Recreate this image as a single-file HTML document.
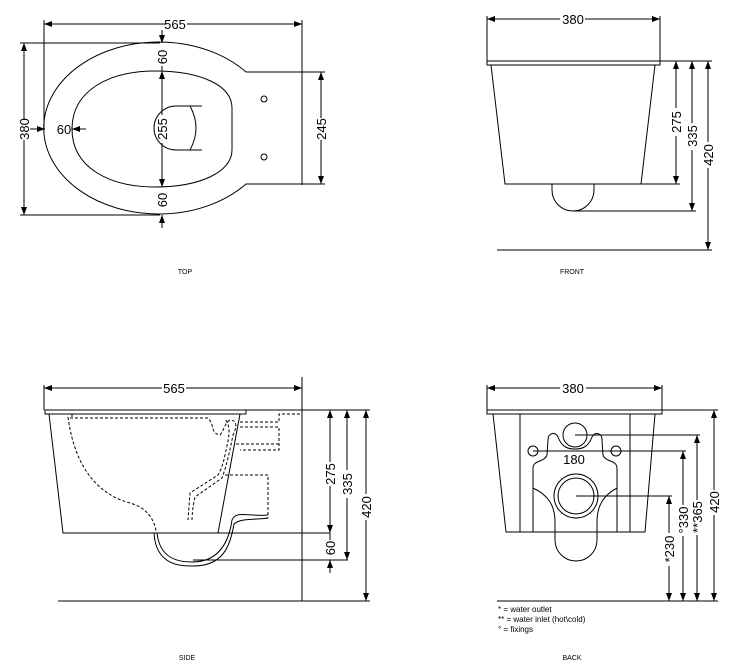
<!DOCTYPE html>
<html><head><meta charset="utf-8"><style>
html,body{margin:0;padding:0;background:#fff;}
svg{display:block;}
text{font-family:"Liberation Sans",sans-serif;fill:#000;}
</style></head><body>
<svg width="751" height="672" viewBox="0 0 751 672" xmlns="http://www.w3.org/2000/svg">
<defs>
<marker id="a" markerWidth="8" markerHeight="6" refX="8" refY="3" orient="auto-start-reverse" markerUnits="userSpaceOnUse"><path d="M0,0 L8,3 L0,6 z" fill="#000"/></marker>
</defs>
<g stroke="#000" stroke-width="1" fill="none">
<!-- TOP VIEW -->
<line x1="44" y1="24" x2="166" y2="24" marker-start="url(#a)"/>
<line x1="187" y1="24" x2="302" y2="24" marker-end="url(#a)"/>
<line x1="44" y1="20" x2="44" y2="130"/>
<line x1="302" y1="20" x2="302" y2="185"/>
<path d="M246,72 A115,86 0 1 0 246,184 L302,184 M246,72 L302,72"/>
<path d="M72,129 C72,90 110,71 155,71 C200,71 232,85 232,108 L232,150 C232,172 200,187 155,187 C110,187 72,168 72,129 Z"/>
<line x1="24" y1="43" x2="24" y2="120" marker-start="url(#a)"/>
<line x1="24" y1="140" x2="24" y2="215" marker-end="url(#a)"/>
<line x1="20" y1="43" x2="160" y2="43"/>
<line x1="20" y1="215" x2="160" y2="215"/>
<line x1="321" y1="72" x2="321" y2="118" marker-start="url(#a)"/>
<line x1="321" y1="140" x2="321" y2="184" marker-end="url(#a)"/>
<line x1="302" y1="72" x2="325" y2="72"/>
<line x1="302" y1="184" x2="325" y2="184"/>
<line x1="30" y1="129" x2="45" y2="129" marker-end="url(#a)"/>
<line x1="86" y1="129" x2="72" y2="129" marker-end="url(#a)"/>
<line x1="162" y1="30" x2="162" y2="43" marker-end="url(#a)"/>
<line x1="162" y1="66" x2="162" y2="71" />
<line x1="162" y1="90" x2="162" y2="71" marker-end="url(#a)"/>
<line x1="162" y1="168" x2="162" y2="187" marker-end="url(#a)"/>
<line x1="162" y1="90" x2="162" y2="115"/>
<line x1="162" y1="143" x2="162" y2="168"/>
<line x1="162" y1="228" x2="162" y2="215" marker-end="url(#a)"/>
<path d="M202,106 L176,106 A22,22 0 0 0 176,150 L202,150"/>
<path d="M190,106 Q202,128 190,150"/>
<circle cx="264" cy="99" r="3"/>
<circle cx="264" cy="157" r="3"/>

<!-- FRONT VIEW -->
<line x1="487" y1="19" x2="560" y2="19" marker-start="url(#a)"/>
<line x1="585" y1="19" x2="660" y2="19" marker-end="url(#a)"/>
<line x1="487" y1="16" x2="487" y2="62"/>
<line x1="660" y1="16" x2="660" y2="62"/>
<rect x="487" y="61" width="173" height="4"/>
<path d="M491,65 L505,184 L641,184 L655,65"/>
<path d="M552,184 L552,190 A21,21 0 0 0 594,190 L594,184"/>
<line x1="660" y1="61" x2="712" y2="61"/>
<line x1="641" y1="184" x2="680" y2="184"/>
<line x1="573" y1="211" x2="696" y2="211"/>
<line x1="497" y1="250" x2="712" y2="250"/>
<line x1="676" y1="61" x2="676" y2="108" marker-start="url(#a)"/>
<line x1="676" y1="136" x2="676" y2="184" marker-end="url(#a)"/>
<line x1="692" y1="61" x2="692" y2="123" marker-start="url(#a)"/>
<line x1="692" y1="150" x2="692" y2="211" marker-end="url(#a)"/>
<line x1="708" y1="61" x2="708" y2="142" marker-start="url(#a)"/>
<line x1="708" y1="168" x2="708" y2="250" marker-end="url(#a)"/>

<!-- SIDE VIEW -->
<line x1="44" y1="388" x2="162" y2="388" marker-start="url(#a)"/>
<line x1="186" y1="388" x2="302" y2="388" marker-end="url(#a)"/>
<line x1="44" y1="385" x2="44" y2="410"/>
<line x1="302" y1="377" x2="302" y2="601"/>
<line x1="58" y1="601" x2="302" y2="601"/>
<rect x="45" y="410" width="201" height="4"/>
<path d="M49,414 L63,533 L330,533"/>
<path d="M240,414 L218,533"/>
<path d="M157,533 C160,560 180,562 192,562 C215,562 228,548 232,520 C236,510 250,517 268,515"/>
<path d="M154,533 C156,568 185,566 193,566 C222,566 230,548 234,524 C240,518 255,520 268,518"/>
<line x1="193" y1="560" x2="348" y2="560"/>
<line x1="302" y1="410" x2="370" y2="410"/>
<line x1="246" y1="410" x2="302" y2="410"/>
<g stroke-dasharray="3,2">
<path d="M68,417 C75,470 100,495 130,503 C155,510 155,530 157,533"/>
<path d="M72,414 L72,418 M70,418 L208,418 C215,425 210,433 220,435 C224,430 225,423 230,420 C236,420 238,425 233,435 C228,460 225,470 222,478 L195,497 C193,505 192,515 192,520"/>
<path d="M226,420 C232,430 228,440 225,455 C223,465 220,472 218,475 L190,493 L188,520"/>
<path d="M240,422 L279,422 L279,414 L302,414 M240,427 L279,427 L279,450 L240,450"/>
<path d="M236,444 L279,444 M225,475 L268,475 L268,518"/>
</g>
<line x1="330" y1="410" x2="330" y2="462" marker-start="url(#a)"/>
<line x1="330" y1="486" x2="330" y2="533" marker-end="url(#a)"/>
<line x1="330" y1="533" x2="330" y2="540"/>
<line x1="330" y1="573" x2="330" y2="560" marker-end="url(#a)"/>
<line x1="347" y1="410" x2="347" y2="470" marker-start="url(#a)"/>
<line x1="347" y1="498" x2="347" y2="560" marker-end="url(#a)"/>
<line x1="366" y1="410" x2="366" y2="494" marker-start="url(#a)"/>
<line x1="366" y1="520" x2="366" y2="601" marker-end="url(#a)"/>
<line x1="302" y1="601" x2="370" y2="601"/>

<!-- BACK VIEW -->
<line x1="487" y1="388" x2="560" y2="388" marker-start="url(#a)"/>
<line x1="586" y1="388" x2="662" y2="388" marker-end="url(#a)"/>
<line x1="487" y1="385" x2="487" y2="410"/>
<line x1="662" y1="385" x2="662" y2="410"/>
<rect x="487" y="410" width="175" height="4"/>
<path d="M493,414 L506,532 L645,532 L655,414"/>
<line x1="520" y1="414" x2="520" y2="532"/>
<line x1="630" y1="414" x2="630" y2="532"/>
<path d="M533,532 L533,468 C533,460 545,462 547,455 L548,440 C548,432 556,432 558,437 C562,448 569,449 575,449 C581,449 588,448 592,437 C594,432 602,432 602,440 L603,455 C605,462 617,460 617,468 L617,532"/>
<circle cx="575" cy="435" r="12"/>
<circle cx="533" cy="451" r="5"/>
<circle cx="616" cy="451" r="5"/>
<circle cx="576" cy="496" r="22"/>
<circle cx="576" cy="496" r="18"/>
<path d="M533,488 C548,495 555,505 555,522 L555,540 A20,20 0 0 0 597,540 L597,522 C597,505 604,495 617,488"/>
<line x1="575" y1="435" x2="700" y2="435"/>
<line x1="533" y1="451" x2="686" y2="451"/>
<line x1="576" y1="496" x2="672" y2="496"/>
<line x1="662" y1="410" x2="718" y2="410"/>
<line x1="497" y1="601" x2="718" y2="601"/>
<line x1="669" y1="496" x2="669" y2="533" marker-start="url(#a)"/>
<line x1="669" y1="566" x2="669" y2="601" marker-end="url(#a)"/>
<line x1="683" y1="451" x2="683" y2="505" marker-start="url(#a)"/>
<line x1="683" y1="536" x2="683" y2="601" marker-end="url(#a)"/>
<line x1="697" y1="435" x2="697" y2="500" marker-start="url(#a)"/>
<line x1="697" y1="535" x2="697" y2="601" marker-end="url(#a)"/>
<line x1="714" y1="410" x2="714" y2="490" marker-start="url(#a)"/>
<line x1="714" y1="515" x2="714" y2="601" marker-end="url(#a)"/>
</g>

<g font-size="13">
<text x="175" y="29" text-anchor="middle">565</text>
<text x="64" y="134" text-anchor="middle">60</text>
<text transform="translate(29,129) rotate(-90)" text-anchor="middle">380</text>
<text transform="translate(326,129) rotate(-90)" text-anchor="middle">245</text>
<text transform="translate(167,57) rotate(-90)" text-anchor="middle">60</text>
<text transform="translate(167,129) rotate(-90)" text-anchor="middle">255</text>
<text transform="translate(167,200) rotate(-90)" text-anchor="middle">60</text>

<text x="573" y="24" text-anchor="middle">380</text>
<text transform="translate(681,122) rotate(-90)" text-anchor="middle">275</text>
<text transform="translate(697,136) rotate(-90)" text-anchor="middle">335</text>
<text transform="translate(713,155) rotate(-90)" text-anchor="middle">420</text>

<text x="174" y="393" text-anchor="middle">565</text>
<text transform="translate(335,474) rotate(-90)" text-anchor="middle">275</text>
<text transform="translate(352,484) rotate(-90)" text-anchor="middle">335</text>
<text transform="translate(371,507) rotate(-90)" text-anchor="middle">420</text>
<text transform="translate(335,548) rotate(-90)" text-anchor="middle">60</text>

<text x="573" y="393" text-anchor="middle">380</text>
<text x="574" y="464" text-anchor="middle">180</text>
<text transform="translate(674,549) rotate(-90)" text-anchor="middle">*230</text>
<text transform="translate(688,520) rotate(-90)" text-anchor="middle">°330</text>
<text transform="translate(702,517) rotate(-90)" text-anchor="middle">**365</text>
<text transform="translate(719,502) rotate(-90)" text-anchor="middle">420</text>
</g>
<g font-size="8">
<text x="498" y="612">* = water outlet</text>
<text x="498" y="622">** = water inlet (hot\cold)</text>
<text x="498" y="632">° = fixings</text>
<text x="185" y="274" text-anchor="middle" font-size="7">TOP</text>
<text x="572" y="274" text-anchor="middle" font-size="7">FRONT</text>
<text x="187" y="660" text-anchor="middle" font-size="7">SIDE</text>
<text x="572" y="660" text-anchor="middle" font-size="7">BACK</text>
</g>
</svg>
</body></html>
